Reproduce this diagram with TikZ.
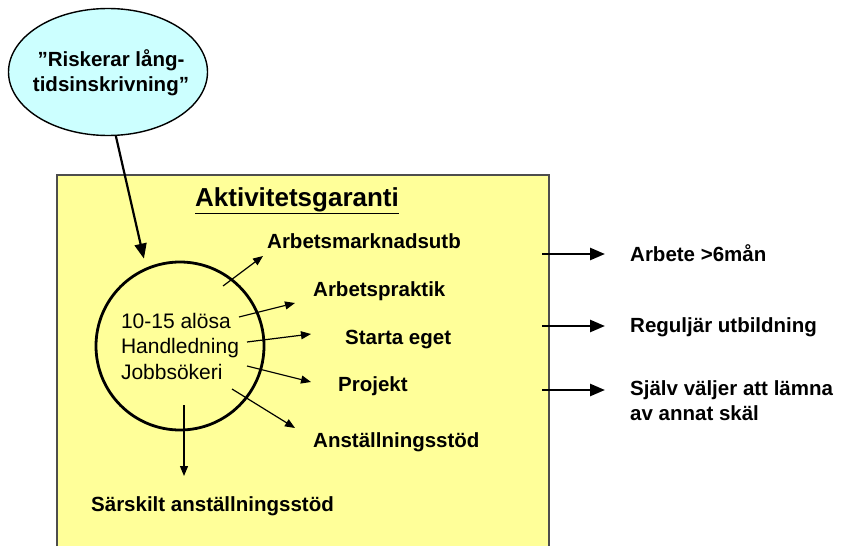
\documentclass[tikz,border=0pt]{standalone}
\usepackage{fontspec}
\setmainfont{Liberation Sans}
\usetikzlibrary{arrows.meta,shapes.geometric}
\definecolor{garantiyellow}{HTML}{FFFF99}
\definecolor{riskcyan}{HTML}{CCFFFF}
\definecolor{boxedge}{HTML}{4D4D4D}
\begin{document}
\begin{tikzpicture}[x=1pt,y=-1pt,
  label/.style={anchor=base west,inner sep=0,font=\fontsize{20.5}{24}\selectfont\bfseries},
  thinarrow/.style={line width=1.2pt,-{Triangle[length=10pt,width=8pt]}},
  thickarrow/.style={line width=2.6pt,-{Triangle[length=15pt,width=12pt]}}]
\useasboundingbox (0,0) rectangle (843,546);

% the yellow box
\fill[garantiyellow] (57,175) rectangle (549,546);
\draw[boxedge,line width=1.5pt] (57,546) |- (549,175) -- (549,546);

\node[ellipse,draw=black,line width=1.4pt,fill=riskcyan,minimum width=199,minimum height=127] (risk) at (108,72) {};
\node[align=center,font=\fontsize{20.5}{25}\selectfont\bfseries] (risktext) at (111,73) {”Riskerar lång-\\tidsinskrivning”};

\node[anchor=base,inner sep=0,font=\fontsize{26}{30}\selectfont\bfseries] (title) at (297,206) {\underline{Aktivitetsgaranti}};

\node[circle,draw=black,line width=2.8pt,minimum size=168,inner sep=0,align=left,
  font=\fontsize{21}{25.5}\selectfont] (ring) at (180,346) {10-15 alösa\\Handledning\\Jobbsökeri};

\draw[thickarrow,line width=2.2pt] (risk.-83) -- ([shift={(0,-10)}]ring.115);

\node[label] (amu) at (267,248) {Arbetsmarknadsutb};
\node[label] (apr) at (313,296) {Arbetspraktik};
\node[label] (sta) at (345,344) {Starta eget};
\node[label] (pro) at (338,391) {Projekt};
\node[label] (ans) at (313,447) {Anställningsstöd};
\node[label] (sar) at (91,511)  {Särskilt anställningsstöd};

\coordinate (s1) at (223,286);
\coordinate (s2) at (239,317);
\coordinate (s3) at (247,342);
\coordinate (s4) at (247,366);
\coordinate (s5) at (232,389);
\coordinate (s6) at (184,405);

\draw[thinarrow] (s1) -- ([shift={(-4,8)}]amu.base west);
\draw[thinarrow] (s2) -- ([shift={(-18,7)}]apr.base west);
\draw[thinarrow] (s3) -- ([shift={(-34,-10)}]sta.base west);
\draw[thinarrow] (s4) -- ([shift={(-27,-9)}]pro.base west);
\draw[thinarrow] (s5) -- ([shift={(-18,-19)}]ans.base west);
\draw[thinarrow] (s6) -- ([shift={(93,-35)}]sar.base west);

% out of the box
\node[label] (arb) at (630,261) {Arbete >6mån};
\node[label] (reg) at (630,332) {Reguljär utbildning};
\node[label,align=left,font=\fontsize{20.5}{25}\selectfont\bfseries] (sjv) at (630,420) {Själv väljer att lämna\\av annat skäl};

\coordinate (e1) at (542,254);
\coordinate (e2) at (542,326);
\coordinate (e3) at (542,390);

\draw[thickarrow] (e1) -- ([shift={(-25,-7)}]arb.base west);
\draw[thickarrow] (e2) -- ([shift={(-25,-6)}]reg.base west);
\draw[thickarrow] (e3) -- ([shift={(-25,-30)}]sjv.base west);
\end{tikzpicture}
\end{document}
